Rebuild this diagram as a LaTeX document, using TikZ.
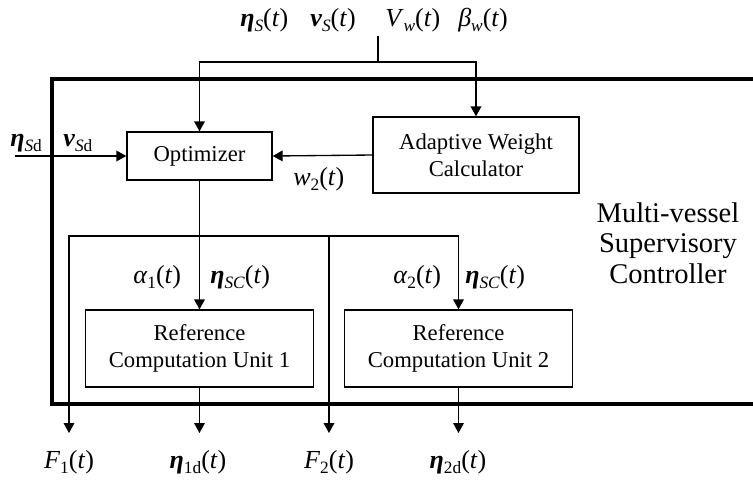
\documentclass[tikz,border=0pt]{standalone}
\usepackage{fontspec}
\setmainfont{Liberation Serif}
\usetikzlibrary{arrows.meta}
\newcommand\bvec[1]{\textbf{\textit{#1}}}
\newcommand\sbs[1]{\raisebox{-0.22em}{\fontsize{13}{13}\selectfont #1}}
\begin{document}
\begin{tikzpicture}[x=0.75pt,y=-0.75pt,
  blk/.style={draw, line width=1pt, align=center, inner sep=0pt,
    font=\fontsize{17}{20.5}\selectfont},
  lbl/.style={inner sep=0pt, font=\fontsize{19.5}{23}\selectfont},
  ln/.style={line width=1pt},
  arr/.style={line width=1pt, -{Triangle[length=7.5pt,width=8pt]}},
  thick box/.style={line width=2.6pt}]
\useasboundingbox (0,0) rectangle (753,480);

% outer supervisory controller frame
\draw[thick box] (753,79) -| (52,404) -- (753,404);

% blocks
\node[blk, minimum width=108.75pt, minimum height=36pt] (opt) at (199.5,156) {Optimizer};
\node[blk, minimum width=154.5pt, minimum height=57pt] (awc) at (476,155) {Adaptive Weight\\Calculator};
\node[blk, minimum width=171pt, minimum height=57.75pt] (rcu1) at (199.5,348.5) {Reference\\Computation Unit 1};
\node[blk, minimum width=171pt, minimum height=57.75pt] (rcu2) at (458.5,348.5) {Reference\\Computation Unit 2};

\node[inner sep=0pt, align=center, font=\fontsize{21.4}{22.9}\selectfont] (msc) at (668,243) {Multi-vessel\\Supervisory\\Controller};

% top inputs
\node[lbl, anchor=base west] (etas) at (240,26) {\bvec{η}\sbs{\textit{S}}(\textit{t})};
\node[lbl, anchor=base west] (nus) at (310,26) {\bvec{ν}\sbs{\textit{S}}(\textit{t})};
\node[lbl, anchor=base west] (vw) at (385,26) {\textit{V}\sbs{\textit{w}}(\textit{t})};
\node[lbl, anchor=base west] (bw) at (458,26) {\textit{β}\sbs{\textit{w}}(\textit{t})};

\coordinate (top) at (378,36);
\coordinate (j) at (378,62);
\draw[ln] (top) -- (j);
\draw[arr] (j) -| (opt.north);
\draw[arr] (j) -| (awc.north);

% reference input
\node[lbl, anchor=base west] (etasd) at (10,146) {\bvec{η}\sbs{\textit{S}d}};
\node[lbl, anchor=base west] (nusd) at (63,146) {\bvec{ν}\sbs{\textit{S}d}};
\coordinate (in) at (15,156);
\draw[arr] (in) -- (opt.west);

% weight
\draw[arr] (awc.west) -- (opt.east);
\node[lbl, anchor=base west] (w2) at (293,185) {\textit{w}\sbs{2}(\textit{t})};

% distribution
\coordinate (d) at (199.5,236);
\coordinate (t1) at (69,433);
\coordinate (t2) at (199.5,433);
\coordinate (t3) at (329,433);
\coordinate (t4) at (458.5,433);
\draw[arr] (opt.south) -- (rcu1.north);
\draw[arr] (d) -| (t1);
\draw[arr] (d) -| (t3);
\draw[arr] (d) -| (rcu2.north);
\draw[arr] (rcu1.south) -- (t2);
\draw[arr] (rcu2.south) -- (t4);

\node[lbl, anchor=base west] (a1) at (133,283) {\textit{α}\sbs{1}(\textit{t})};
\node[lbl, anchor=base west] (esc1) at (210,283) {\bvec{η}\sbs{\textit{SC}}(\textit{t})};
\node[lbl, anchor=base west] (a2) at (393,283) {\textit{α}\sbs{2}(\textit{t})};
\node[lbl, anchor=base west] (esc2) at (465,283) {\bvec{η}\sbs{\textit{SC}}(\textit{t})};

% outputs
\node[lbl, anchor=base] (f1) at (69,468) {\textit{F}\sbs{1}(\textit{t})};
\node[lbl, anchor=base] (e1d) at (198,468) {\bvec{η}\sbs{1d}(\textit{t})};
\node[lbl, anchor=base] (f2) at (329,468) {\textit{F}\sbs{2}(\textit{t})};
\node[lbl, anchor=base] (e2d) at (458,468) {\bvec{η}\sbs{2d}(\textit{t})};
\end{tikzpicture}
\end{document}
